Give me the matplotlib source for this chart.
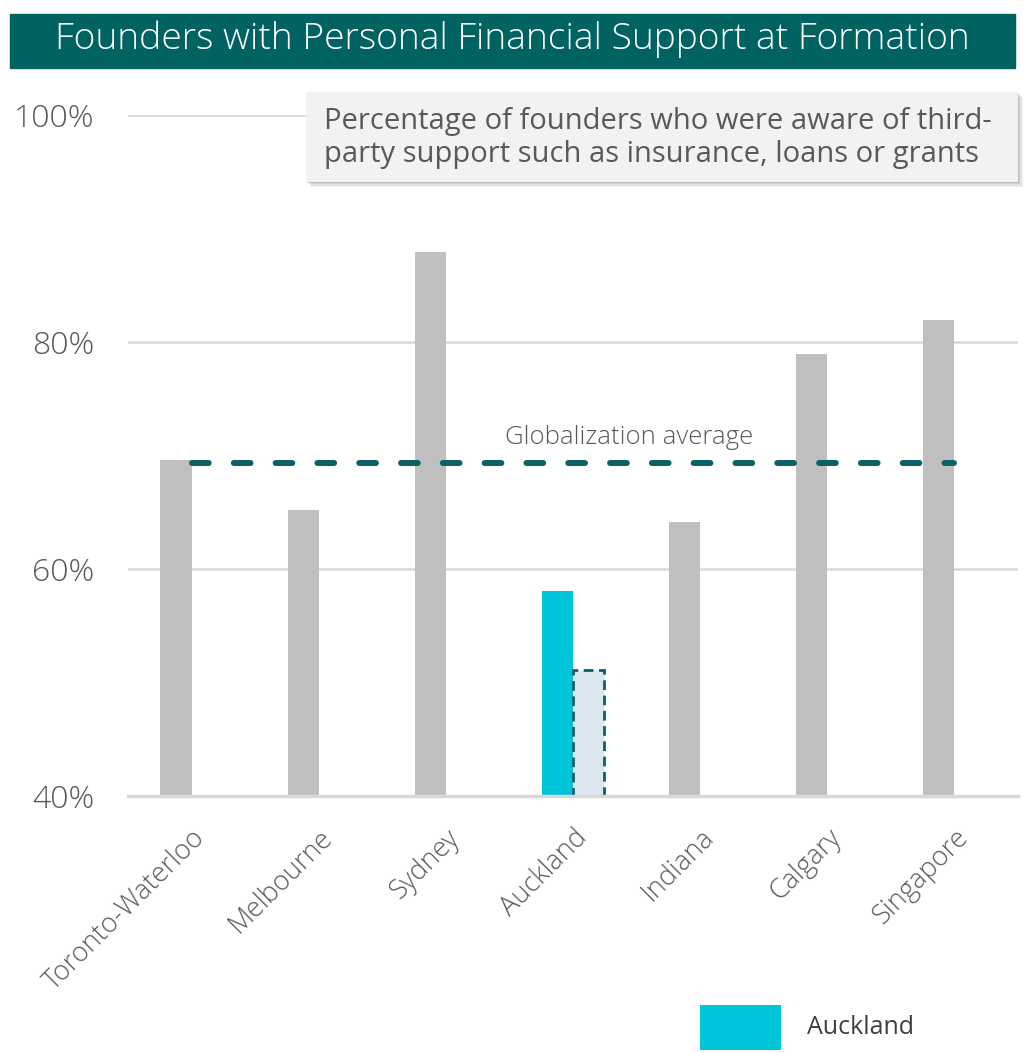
import matplotlib
matplotlib.use("Agg")
import matplotlib.pyplot as plt
from matplotlib.patches import Rectangle
from matplotlib.ticker import FixedLocator, FuncFormatter

plt.rcParams["font.family"] = ["Open Sans", "DejaVu Sans"]

cities = ["Toronto-Waterloo", "Melbourne", "Sydney", "Auckland",
          "Indiana", "Calgary", "Singapore"]
aware_pct = [69.6, 65.2, 87.9, 58.1, 64.1, 78.9, 81.9]
auckland_prior = [None, None, None, 51.1, None, None, None]
global_avg = 69.3
highlight = "Auckland"

GRAY_BAR = "#BFBFBF"
CYAN = "#00C4DA"
TEAL = "#0B6166"
BAND = "#006261"
TXT = "#595959"

fig = plt.figure(figsize=(10.25, 10.53), dpi=100)
ax = fig.add_axes([128 / 1025, 1 - 796 / 1053, 890 / 1025, 681 / 1053])

w = 0.245
xs = list(range(len(cities)))
colors = [CYAN if c == highlight else GRAY_BAR for c in cities]
ax.bar([x - w / 2 for x in xs], [v - 40 for v in aware_pct], bottom=40,
       width=w, color=colors, zorder=3)

for x, v in zip(xs, auckland_prior):
    if v is None:
        continue
    ax.bar(x + w / 2, v - 40, bottom=40, width=w, color="#DCE6F1",
           edgecolor=TEAL, linestyle=(0, (3.5, 2)), linewidth=2.0, zorder=3)

# average line spans first to last slot centre
ax.plot([xs[0], xs[-1]], [global_avg, global_avg], color=TEAL, lw=4.3,
        linestyle=(0, (2.8, 4.2)), dash_capstyle="round", zorder=4)
ax.text(3.44, global_avg + 1.2, "Globalization average",
        ha="center", va="bottom", fontsize=18.5, color=TXT, fontweight="light")

ax.set_xlim(-0.5, len(cities) - 0.5)
ax.set_ylim(40, 100)
ax.yaxis.set_major_locator(FixedLocator([40, 60, 80, 100]))
ax.yaxis.set_major_formatter(FuncFormatter(lambda v, _: f"{v:.0f}%"))
ax.grid(axis="y", color="#D9D9D9", lw=1.8, zorder=0)
ax.set_axisbelow(True)
for s in ["top", "right", "left"]:
    ax.spines[s].set_visible(False)
ax.spines["bottom"].set_color("#D9D9D9")
ax.spines["bottom"].set_linewidth(2.5)
ax.spines["bottom"].set_zorder(5)
ax.tick_params(axis="both", length=0, labelcolor=TXT)
ax.tick_params(axis="y", labelsize=23, pad=24)
for lab in ax.get_yticklabels():
    lab.set_fontweight("light")
ax.set_xticks(xs)
ax.set_xticklabels(cities, rotation=45, ha="right", rotation_mode="anchor",
                   fontsize=19.5, fontweight="light", color=TXT)
ax.tick_params(axis="x", pad=20)

# title band
fig.patches.append(Rectangle((10 / 1025, 1 - 68 / 1053), 1005 / 1025, 54 / 1053,
                             transform=fig.transFigure, color=BAND, zorder=0))
fig.text(512 / 1025, 1 - 39 / 1053, "Founders with Personal Financial Support at Formation",
         ha="center", va="center", fontsize=26.8, color="white", fontweight="light")

# note box with soft shadow
bx, by, bw, bh = 306 / 1025, 1 - 182 / 1053, 712 / 1025, 90 / 1053
for i, a in enumerate([0.05, 0.06, 0.08, 0.1]):
    off = (4 - i) * 1.2
    fig.patches.append(Rectangle((bx + off / 1025, by - off / 1053), bw, bh,
                                 transform=fig.transFigure, color="#000000",
                                 alpha=a, lw=0, zorder=6))
fig.patches.append(Rectangle((bx, by), bw, bh, transform=fig.transFigure,
                             color="#F2F2F2", lw=0, zorder=7))
fig.text(324 / 1025, 1 - 138 / 1053,
         "Percentage of founders who were aware of third-\nparty support such as insurance, loans or grants",
         ha="left", va="center", fontsize=21, color=TXT, linespacing=1.2, zorder=8)

# legend
fig.patches.append(Rectangle((700 / 1025, 1 - 1050 / 1053), 81 / 1025, 45 / 1053,
                             transform=fig.transFigure, color=CYAN, lw=0))
fig.text(807 / 1025, 1 - 1027 / 1053, "Auckland", ha="left", va="center",
         fontsize=18, color="#404040")

fig.savefig("out.png", dpi=100)
